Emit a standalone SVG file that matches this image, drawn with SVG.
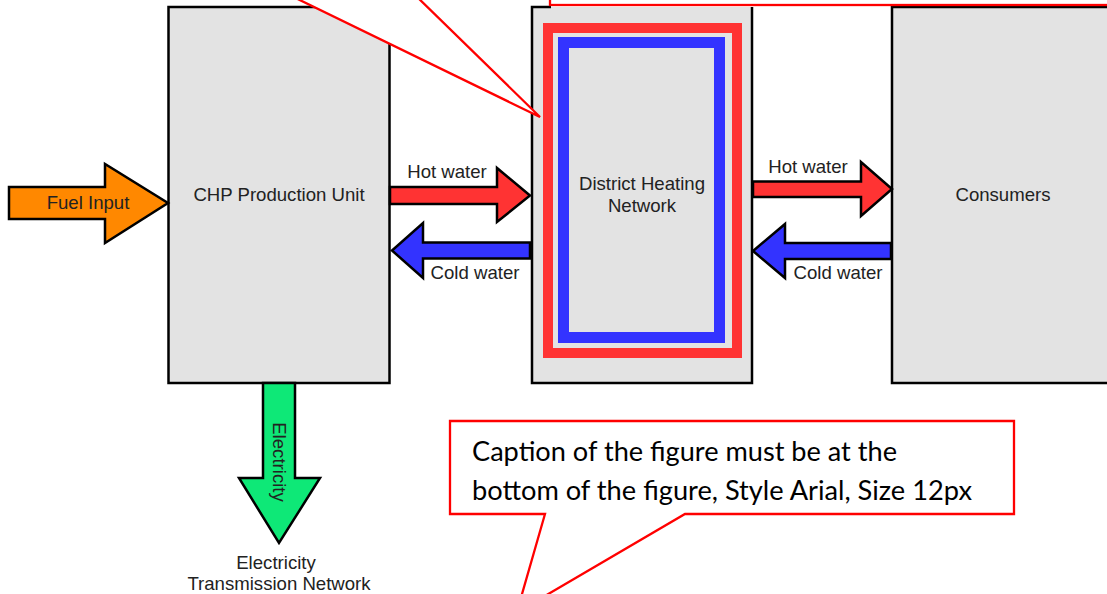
<svg xmlns="http://www.w3.org/2000/svg" width="1107" height="594" viewBox="0 0 1107 594">
<style>
.box{fill:#e3e3e3;stroke:#000;stroke-width:2.5}
.edge{fill:none;stroke:#000;stroke-width:2.5}
.lbl{font-family:"Liberation Sans",Arial,sans-serif;font-size:18.6px;fill:#222;text-anchor:middle}
.arr{stroke:#000;stroke-width:2.5;stroke-linejoin:miter}
.hot{fill:#ff3333}
.cold{fill:#3333ff}
.callout{fill:#fff;stroke:#ff0000;stroke-width:2.3;stroke-linejoin:miter}
.cap{font-family:"Lato","Open Sans",sans-serif;font-size:26px;fill:#000}
</style>
<rect width="1107" height="594" fill="#fff"/>
<g id="chp">
<rect class="box" x="168.5" y="7" width="221" height="376"/>
<text class="lbl" x="279" y="201">CHP Production Unit</text>
</g>
<g id="dhn">
<rect x="532" y="7" width="220" height="376" fill="#e3e3e3"/>
<path class="edge" d="M551,7 H532 V383 H752 V7"/>
<rect x="548" y="28" width="189" height="325" fill="none" stroke="#ff3333" stroke-width="10"/>
<rect x="563.5" y="42.5" width="156" height="295" fill="none" stroke="#3333ff" stroke-width="11"/>
<text class="lbl" x="642" y="190">District Heating</text>
<text class="lbl" x="642" y="212">Network</text>
</g>
<g id="consumers">
<rect class="box" x="892" y="7" width="222" height="376"/>
<text class="lbl" x="1003" y="201">Consumers</text>
</g>
<g id="connectors">
<g id="fuel">
<polygon class="arr" fill="#ff8800" points="9,187 105,187 105,164 168,203 105,243 105,219 9,219"/>
<text class="lbl" x="88" y="209">Fuel Input</text>
</g>
<g id="hot1">
<polygon class="arr hot" points="390,187 497,187 497,168 530,195.5 497,222 497,204 390,204"/>
<text class="lbl" x="447" y="178">Hot water</text>
</g>
<g id="cold1">
<polygon class="arr cold" points="530,242.5 423,242.5 423,223 392,250.5 423,278 423,258.5 530,258.5"/>
<text class="lbl" x="475" y="279">Cold water</text>
</g>
<g id="hot2">
<polygon class="arr hot" points="753,181.5 861,181.5 861,162 892,189 861,216 861,197 753,197"/>
<text class="lbl" x="808" y="173">Hot water</text>
</g>
<g id="cold2">
<polygon class="arr cold" points="891,243 785,243 785,224 753,251 785,278 785,259 891,259"/>
<text class="lbl" x="838" y="279">Cold water</text>
</g>
<g id="electricity">
<polygon class="arr" fill="#0ee877" points="263,383 295,383 295,478 320,478 279,543 239,478 263,478"/>
<text class="lbl" transform="translate(279,462) rotate(90)" y="6.5">Electricity</text>
</g>
</g>
<g id="grid">
<text class="lbl" x="276" y="569">Electricity</text>
<text class="lbl" x="279" y="590">Transmission Network</text>
</g>
<g id="callout-top">
<rect class="callout" x="550" y="-30" width="600" height="35"/>
<polygon class="callout" points="197,-50 540,117 369,-50"/>
</g>
<g id="callout-caption">
<polygon class="callout" points="450,421 1014,421 1014,514 685,514 516.7,612.5 545,514 450,514"/>
<text class="cap" x="472" y="461" textLength="425" lengthAdjust="spacingAndGlyphs">Caption of the figure must be at the</text>
<text class="cap" x="472" y="500" textLength="500" lengthAdjust="spacingAndGlyphs">bottom of the figure, Style Arial, Size 12px</text>
</g>
</svg>
